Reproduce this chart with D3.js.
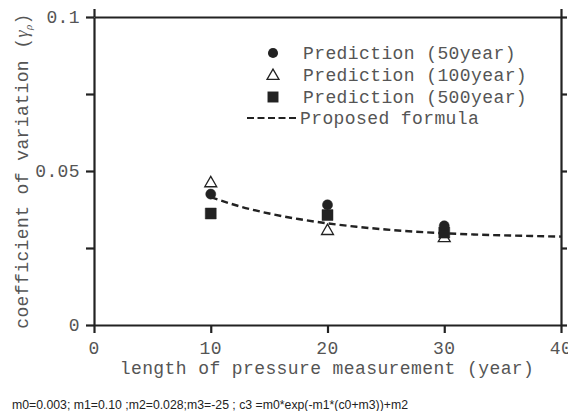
<!DOCTYPE html>
<html><head><meta charset="utf-8">
<script src="https://cdn.jsdelivr.net/npm/d3@7"></script>
<style>body{margin:0;background:#fff}svg{display:block}</style>
</head><body>
<svg id="c" width="568" height="411"></svg>
<script>
// ---- data ----
const years = [10, 20, 30];
const pred50 = [0.0425, 0.0390, 0.0322];
const pred100 = [0.0460, 0.0305, 0.0282];
const pred500 = [0.0362, 0.0357, 0.0300];
const formulaX = [10, 12.5, 15, 17.5, 20, 22.5, 25, 27.5, 30, 32.5, 35, 37.5, 40];
const formulaY = [0.0415, 0.0385, 0.0362, 0.0344, 0.0330, 0.0319, 0.0310, 0.0303, 0.0298, 0.0294, 0.0291, 0.0289, 0.0287];
const xTicks = [0, 10, 20, 30, 40];
const yTicks = [0, 0.025, 0.05, 0.075, 0.1];
const yTickLabels = ["0", "", "0.05", "", "0.1"];
const legendLabels = ["Prediction (50year)", "Prediction (100year)", "Prediction (500year)", "Proposed formula"];
const footnote = "m0=0.003; m1=0.10 ;m2=0.028;m3=-25 ; c3 =m0*exp(-m1*(c0+m3))+m2";

const svg = d3.select("#c");
const x = d3.scaleLinear().domain([0, 40]).range([94, 561]);
const y = d3.scaleLinear().domain([0, 0.1]).range([325, 17]);
const ink = "#222";
const txt = "#555";
const mono = "'Liberation Mono', 'Courier New', monospace";
const ls = 0.4;

// frame axes
const gL = svg.append("g").attr("transform", `translate(${x(0)},0)`)
  .call(d3.axisLeft(y).tickValues(yTicks).tickSize(8).tickSizeOuter(0).tickFormat(""));
const gR = svg.append("g").attr("transform", `translate(${x(40)},0)`)
  .call(d3.axisRight(y).tickValues(yTicks).tickSize(6).tickSizeOuter(0).tickFormat(""));
const gB = svg.append("g").attr("transform", `translate(0,${y(0)})`)
  .call(d3.axisBottom(x).tickValues(xTicks).tickSize(8).tickSizeOuter(0).tickFormat(""));
const gT = svg.append("g").attr("transform", `translate(0,${y(0.1)})`)
  .call(d3.axisTop(x).tickValues([0, 40]).tickSize(8).tickSizeOuter(0).tickFormat(""));
[gL, gR, gB, gT].forEach(g => {
  g.selectAll("path.domain").attr("stroke", ink).attr("stroke-width", 2.2);
  g.selectAll(".tick line").attr("stroke", ink).attr("stroke-width", 2.2);
});

// tick labels
svg.append("g").selectAll("text").data(yTicks.map((v, i) => [v, yTickLabels[i]]).filter(d => d[1]))
  .join("text").attr("x", 80).attr("y", d => y(d[0])).attr("dy", "0.35em")
  .attr("text-anchor", "end").attr("font-family", mono).attr("font-size", 18).attr("fill", txt)
  .attr("letter-spacing", ls).text(d => d[1]);
svg.append("g").selectAll("text").data(xTicks)
  .join("text").attr("x", d => x(d)).attr("y", 354).attr("text-anchor", "middle")
  .attr("font-family", mono).attr("font-size", 18).attr("fill", txt).attr("letter-spacing", ls).text(d => d);

// axis titles
svg.append("text").attr("x", 327).attr("y", 374).attr("text-anchor", "middle")
  .attr("font-family", mono).attr("font-size", 18).attr("fill", txt).attr("letter-spacing", ls)
  .text("length of pressure measurement (year)");
const yl = svg.append("text").attr("transform", "translate(28,171) rotate(-90)")
  .attr("text-anchor", "middle").attr("font-family", mono).attr("font-size", 18).attr("fill", txt)
  .attr("letter-spacing", ls);
yl.append("tspan").text("coefficient of variation (");
yl.append("tspan").attr("font-style", "italic").attr("font-family", "'Liberation Serif', serif").text("γ");
yl.append("tspan").attr("font-style", "italic").attr("font-size", 11).attr("dy", 4).attr("font-family", "'Liberation Serif', serif").text("ρ");
yl.append("tspan").attr("dy", -4).text(")");

// formula curve
const line = d3.line().x(d => x(d[0])).y(d => y(d[1])).curve(d3.curveMonotoneX);
svg.append("path").datum(formulaX.map((v, i) => [v, formulaY[i]]))
  .attr("d", line).attr("fill", "none").attr("stroke", ink)
  .attr("stroke-width", 2.4).attr("stroke-dasharray", "7,4");

// markers
const sym = {
  circle: d3.symbol().type(d3.symbolCircle).size(80),
  tri: d3.symbol().type(d3.symbolTriangle).size(62),
  square: d3.symbol().type(d3.symbolSquare).size(120)
};
function drawSeries(vals, s, fill) {
  svg.append("g").selectAll("path").data(years.map((v, i) => [v, vals[i]]))
    .join("path").attr("transform", d => `translate(${x(d[0])},${y(d[1])})`)
    .attr("d", s).attr("fill", fill).attr("stroke", ink).attr("stroke-width", fill === "#fff" ? 1.3 : 0.5);
}
drawSeries(pred100, sym.tri, "#fff");
drawSeries(pred500, sym.square, ink);
drawSeries(pred50, sym.circle, ink);

// legend
const lg = svg.append("g");
const ly = [53, 75, 97, 118];
lg.append("path").attr("transform", `translate(273,${ly[0]})`).attr("d", sym.circle).attr("fill", ink);
lg.append("path").attr("transform", `translate(273,${ly[1] + 1})`).attr("d", sym.tri).attr("fill", "#fff").attr("stroke", ink).attr("stroke-width", 1.3);
lg.append("path").attr("transform", `translate(273,${ly[2]})`).attr("d", sym.square).attr("fill", ink);
lg.append("line").attr("x1", 247).attr("x2", 298).attr("y1", ly[3]).attr("y2", ly[3])
  .attr("stroke", ink).attr("stroke-width", 2.2).attr("stroke-dasharray", "7,3.5");
lg.selectAll("text").data(legendLabels).join("text")
  .attr("x", (d, i) => i === 3 ? 300 : 303).attr("y", (d, i) => ly[i]).attr("dy", "0.35em")
  .attr("font-family", mono).attr("font-size", 18).attr("fill", txt).attr("letter-spacing", ls).text(d => d);

// footnote
svg.append("text").attr("x", 12).attr("y", 409)
  .attr("font-family", "'Liberation Sans', Arial, sans-serif").attr("font-size", 12.5).attr("fill", "#222")
  .attr("textLength", 396).attr("lengthAdjust", "spacingAndGlyphs").text(footnote);
</script>
</body></html>
